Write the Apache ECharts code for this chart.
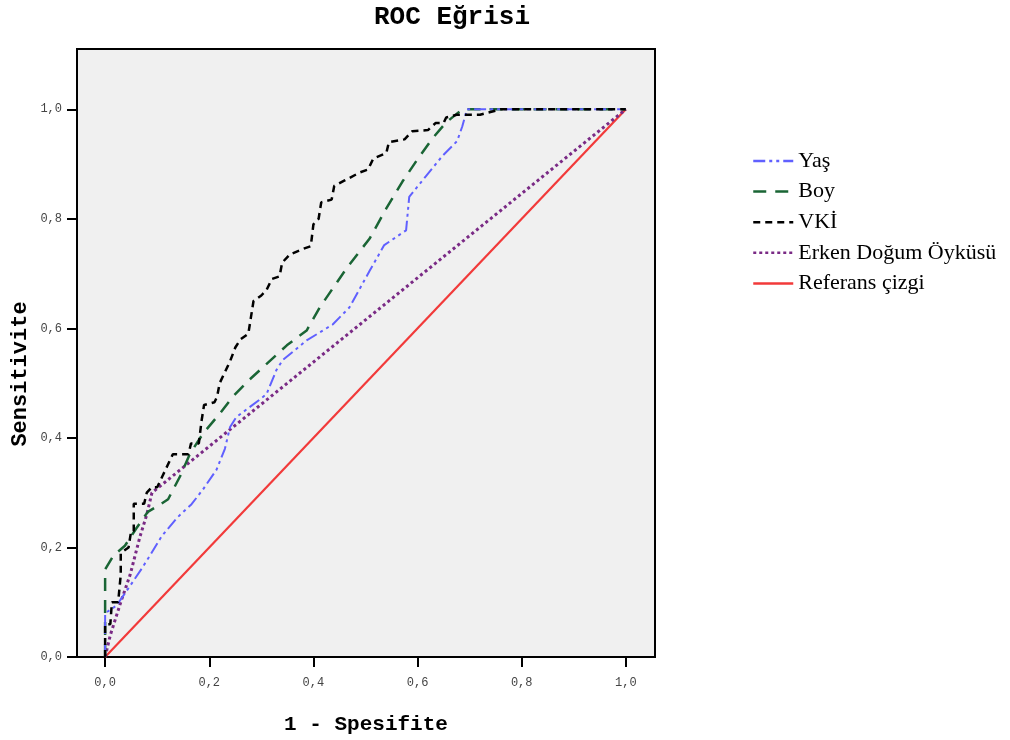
<!DOCTYPE html>
<html>
<head>
<meta charset="utf-8">
<script src="https://cdn.jsdelivr.net/npm/echarts@6/dist/echarts.min.js"></script>
<style>
html,body{margin:0;padding:0;background:#fff;}
#chart{width:1010px;height:740px;}
</style>
</head>
<body>
<div id="chart"></div>
<script>
const xTicks = [0, 0.2, 0.4, 0.6, 0.8, 1.0];
const yTicks = [0, 0.2, 0.4, 0.6, 0.8, 1.0];
const seriesNames = ['Yaş', 'Boy', 'VKİ', 'Erken Doğum Öyküsü', 'Referans çizgi'];

const yasData = [[0,0],[0,0.08],[0.022,0.094],[0.048,0.13],[0.07,0.161],[0.086,0.185],[0.109,0.221],[0.138,0.254],[0.166,0.279],[0.188,0.306],[0.214,0.342],[0.23,0.38],[0.24,0.42],[0.252,0.438],[0.297,0.47],[0.31,0.48],[0.329,0.524],[0.341,0.542],[0.387,0.578],[0.437,0.607],[0.469,0.638],[0.508,0.705],[0.536,0.752],[0.578,0.779],[0.584,0.84],[0.617,0.879],[0.648,0.915],[0.676,0.942],[0.686,0.969],[0.695,1.0],[1,1]];

const boyData = [[0,0],[0,0.16],[0.016,0.185],[0.038,0.203],[0.06,0.235],[0.082,0.265],[0.1,0.275],[0.121,0.288],[0.144,0.33],[0.163,0.371],[0.188,0.408],[0.22,0.444],[0.245,0.475],[0.278,0.507],[0.349,0.569],[0.387,0.596],[0.412,0.638],[0.464,0.71],[0.508,0.764],[0.54,0.819],[0.571,0.868],[0.598,0.906],[0.628,0.946],[0.655,0.976],[0.686,1.0],[1,1]];

const vkiData = [[0,0],[0,0.06],[0.01,0.06],[0.013,0.1],[0.025,0.1],[0.03,0.15],[0.03,0.19],[0.045,0.2],[0.05,0.23],[0.055,0.23],[0.055,0.28],[0.075,0.28],[0.08,0.3],[0.09,0.31],[0.1,0.31],[0.11,0.33],[0.12,0.35],[0.13,0.37],[0.16,0.37],[0.165,0.39],[0.18,0.39],[0.185,0.43],[0.19,0.46],[0.21,0.465],[0.215,0.475],[0.22,0.5],[0.23,0.52],[0.24,0.54],[0.25,0.565],[0.26,0.58],[0.275,0.59],[0.28,0.62],[0.285,0.65],[0.3,0.66],[0.31,0.67],[0.32,0.69],[0.335,0.695],[0.34,0.72],[0.355,0.735],[0.38,0.745],[0.395,0.75],[0.4,0.79],[0.41,0.8],[0.415,0.83],[0.435,0.835],[0.44,0.86],[0.46,0.87],[0.49,0.885],[0.505,0.89],[0.515,0.91],[0.54,0.92],[0.545,0.94],[0.575,0.945],[0.59,0.96],[0.62,0.962],[0.635,0.975],[0.65,0.975],[0.655,0.985],[0.675,0.99],[0.72,0.99],[0.74,0.995],[0.76,1.0],[1,1]];

const erkenData = [[0,0],[0.01,0.04],[0.03,0.1],[0.048,0.15],[0.067,0.22],[0.08,0.26],[0.09,0.3],[1,1]];

const refData = [[0,0],[1,1]];

const fmt = v => v.toFixed(1).replace('.', ',');
const monoFont = '"Liberation Mono", "DejaVu Sans Mono", monospace';

const chart = echarts.init(document.getElementById('chart'), null, {renderer: 'canvas'});
chart.setOption({
  animation: false,
  backgroundColor: '#ffffff',
  grid: {
    left: 77, top: 49, right: 355, bottom: 78,
    show: true, backgroundColor: '#f0f0f0', borderColor: '#000', borderWidth: 2,
    containLabel: false
  },
  legend: {
    left: 752, top: 150, orient: 'vertical', padding: 0,
    itemWidth: 40, itemHeight: 14, itemGap: 8.6,
    data: seriesNames,
    itemStyle: {color: 'transparent', borderWidth: 0, opacity: 0},
    lineStyle: {width: 2.5},
    textStyle: {fontFamily: '"Liberation Serif", "Times New Roman", serif', fontSize: 22, color: '#000'}
  },
  xAxis: {
    type: 'value', min: -0.054, max: 1.056,
    name: '1 - Spesifite', nameLocation: 'middle', nameGap: 57,
    nameTextStyle: {fontFamily: monoFont, fontWeight: 'bold', fontSize: 21, color: '#000'},
    axisLine: {show: true, onZero: false, lineStyle: {color: '#000', width: 2}},
    axisTick: {show: true, inside: false, length: 10, customValues: xTicks, lineStyle: {color: '#000', width: 2}},
    axisLabel: {customValues: xTicks, formatter: fmt, margin: 20, fontFamily: monoFont, fontSize: 12, color: '#444'},
    splitLine: {show: false}
  },
  yAxis: {
    type: 'value', min: 0, max: 1.11,
    axisLine: {show: true, onZero: false, lineStyle: {color: '#000', width: 2}},
    axisTick: {show: true, inside: false, length: 10, customValues: yTicks, lineStyle: {color: '#000', width: 2}},
    axisLabel: {customValues: yTicks, formatter: fmt, margin: 15, fontFamily: monoFont, fontSize: 12, color: '#444'},
    splitLine: {show: false}
  },
  graphic: [
    {type: 'text', x: 452, y: 17, style: {text: 'ROC Eğrisi', font: 'bold 26px ' + monoFont, fill: '#000', align: 'center', verticalAlign: 'middle'}},
    {type: 'text', x: 20, y: 374, rotation: Math.PI / 2, style: {text: 'Sensitivite', font: 'bold 22px ' + monoFont, fill: '#000', align: 'center', verticalAlign: 'middle'}}
  ],
  series: [
    {name: seriesNames[0], type: 'line', data: yasData, showSymbol: false, symbol: 'none', z: 4,
     lineStyle: {color: '#6060ff', width: 2, type: [12, 4, 3, 4, 3, 4]}, itemStyle: {color: '#6060ff'}},
    {name: seriesNames[1], type: 'line', data: boyData, showSymbol: false, symbol: 'none', z: 3,
     lineStyle: {color: '#1a6535', width: 2.5, type: [13, 9]}, itemStyle: {color: '#1a6535'}},
    {name: seriesNames[2], type: 'line', data: vkiData, showSymbol: false, symbol: 'none', z: 5,
     lineStyle: {color: '#000000', width: 2.5, type: [7, 5]}, itemStyle: {color: '#000000'}},
    {name: seriesNames[3], type: 'line', data: erkenData, showSymbol: false, symbol: 'none', z: 2,
     lineStyle: {color: '#7a2a85', width: 3, type: [3, 3]}, itemStyle: {color: '#7a2a85'}},
    {name: seriesNames[4], type: 'line', data: refData, showSymbol: false, symbol: 'none', z: 1,
     lineStyle: {color: '#f23a3a', width: 2.2, type: 'solid'}, itemStyle: {color: '#f23a3a'}}
  ]
});
</script>
</body>
</html>
